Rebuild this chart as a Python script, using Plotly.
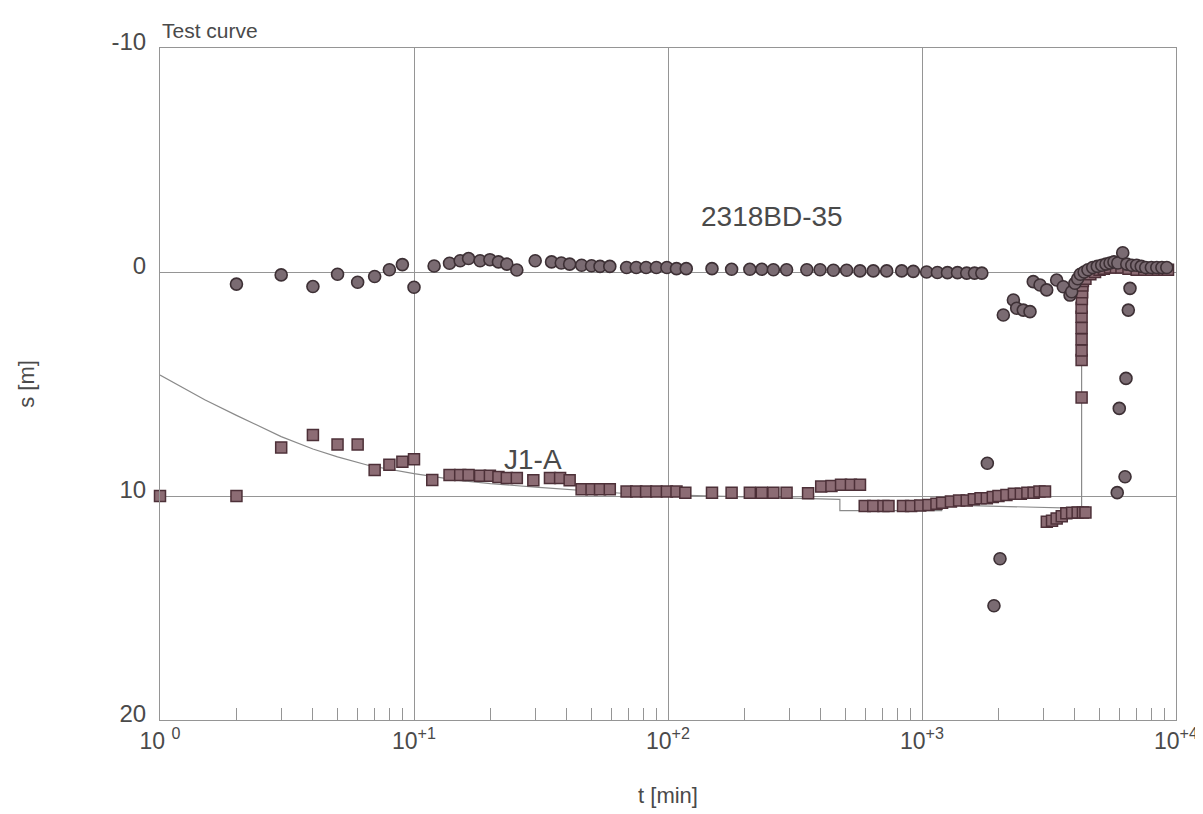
import math
import plotly.graph_objects as go

# --- 2318BD-35 (circles) ---
obs_t = [2, 3, 4, 5, 6, 7, 8, 9, 10, 12, 13.8, 15.2, 16.4, 18.2, 19.9, 21.5, 23.2, 25.4,
         30, 34.8, 38, 41, 45.7, 50, 54, 59, 68.7, 75, 82, 90, 99, 108, 118,
         149, 178, 210, 234, 260, 293, 352, 397, 448, 505, 570, 643, 726, 832, 924,
         1043, 1150, 1260, 1380, 1500, 1610, 1720,
         1808, 1920, 2028,
         2090, 2290, 2360, 2505, 2662, 2742, 2915, 3097, 3390, 3600, 3826, 3884,
         4000, 4100, 4200, 4350, 4500, 4700, 4900, 5100, 5300, 5500, 5700, 5900,
         6170, 6400, 6700, 7000, 7300, 7600, 8000, 8400, 8800, 9200,
         6590, 6490, 6355, 5980, 6300, 5870]
obs_s = [0.54, 0.13, 0.65, 0.1, 0.46, 0.2, -0.1, -0.33, 0.68, -0.27, -0.39, -0.5, -0.6, -0.5, -0.55, -0.45, -0.35, -0.09,
         -0.5, -0.45, -0.4, -0.35, -0.3, -0.28, -0.25, -0.25, -0.2, -0.2, -0.2, -0.2, -0.2, -0.15, -0.15,
         -0.15, -0.12, -0.12, -0.12, -0.1, -0.1, -0.1, -0.1, -0.08, -0.08, -0.05, -0.05, -0.05, -0.05, -0.03,
         0.0, 0.02, 0.03, 0.03, 0.05, 0.05, 0.05,
         8.54, 14.9, 12.8,
         1.92, 1.25, 1.62, 1.70, 1.77, 0.43, 0.58, 0.80, 0.36, 0.66, 1.03, 0.88,
         0.5, 0.3, 0.1, 0.0, -0.1, -0.2, -0.25, -0.3, -0.35, -0.4, -0.45, -0.4,
         -0.86, -0.35, -0.3, -0.3, -0.25, -0.2, -0.2, -0.2, -0.2, -0.2,
         0.73, 1.70, 4.75, 6.09, 9.14, 9.85]

# --- J1-A (squares) ---
pw_t = [1, 2, 3, 4, 5, 6, 7, 8, 9, 10, 11.8, 13.8, 15.2, 16.4, 18.2, 19.9, 21.5, 23.2, 25.4,
        29.5, 34.3, 37.6, 41, 45.7, 50, 54, 59, 68.7, 75, 82, 90, 99, 108, 117,
        149, 178, 210, 234, 260, 293, 356, 401, 440, 480, 525, 570,
        595, 643, 705, 738, 842, 906, 984, 1060, 1140,
        1200, 1300, 1400, 1500, 1600, 1700, 1800, 1900, 2000, 2150, 2300, 2450, 2600, 2750, 2900, 3050,
        3100, 3250, 3390, 3550, 3700, 3900, 4100, 4300, 4400,
        4250, 4250, 4250, 4250, 4250, 4250, 4250, 4260, 4270, 4280, 4300,
        4400, 4600, 4800, 5000, 5200, 5500, 5800, 6100, 6500, 7000, 7500, 8000, 8500, 9000, 9300]
pw_s = [10.0, 10.0, 7.83, 7.28, 7.7, 7.7, 8.84, 8.6, 8.47, 8.36, 9.29, 9.06, 9.06, 9.06, 9.1, 9.1, 9.15, 9.2, 9.2,
        9.3, 9.2, 9.2, 9.3, 9.7, 9.7, 9.7, 9.7, 9.8, 9.8, 9.8, 9.8, 9.8, 9.8, 9.85,
        9.85, 9.85, 9.85, 9.85, 9.85, 9.85, 9.88, 9.58, 9.55, 9.5, 9.5, 9.5,
        10.45, 10.45, 10.45, 10.45, 10.45, 10.45, 10.42, 10.4, 10.35,
        10.3, 10.25, 10.2, 10.2, 10.15, 10.1, 10.1, 10.05, 10.0, 9.95, 9.9, 9.9, 9.85, 9.85, 9.8, 9.8,
        11.15, 11.1, 11.0, 10.9, 10.77, 10.75, 10.74, 10.74, 10.74,
        5.6, 3.93, 3.5, 3.0, 2.5, 2.0, 1.6, 1.2, 0.9, 0.6, 0.4,
        0.3, 0.1, 0.0, -0.1, -0.15, -0.2, -0.2, -0.2, -0.15, -0.1, -0.1, -0.1, -0.1, -0.1, -0.1]

# --- test (model) curve ---
fit_t = [1, 1.5, 2, 3, 4, 5, 6.7, 10, 15, 20, 30, 50, 70, 100, 200, 300, 475, 475,
         1195, 1195, 2000, 3000, 4250, 4250, 4500, 5000, 6000, 7000, 8000, 9300]
fit_s = [4.6, 5.7, 6.4, 7.35, 7.9, 8.25, 8.65, 9.0, 9.3, 9.45, 9.6, 9.8, 9.9, 9.95, 10.05, 10.1, 10.15, 10.65,
         10.65, 10.4, 10.45, 10.5, 10.55, 0.4, 0.2, 0.0, -0.15, -0.2, -0.2, -0.2]

x_tickvals = [1, 10, 100, 1000, 10000]
x_ticktext = ["10 <sup>0</sup>", "10<sup>+1</sup>", "10<sup>+2</sup>", "10<sup>+3</sup>", "10<sup>+4</sup>"]
x_minor = [m * 10 ** d for d in range(4) for m in range(2, 10)]
y_tickvals = [-10, 0, 10, 20]
y_ticktext = ["-10", "0", "10", "20"]

series_labels = ["2318BD-35", "J1-A"]
label_t = [257, 29.4]
label_s = [-2.46, 8.35]

FONT = "Arial, Liberation Sans, sans-serif"
TXT = "#4a4a4a"
GRID = "#959595"

fig = go.Figure()
fig.add_trace(go.Scatter(x=fit_t, y=fit_s, mode="lines",
                         line=dict(color="#8a8a8a", width=1.2), showlegend=False, cliponaxis=False))
fig.add_trace(go.Scatter(x=pw_t, y=pw_s, mode="markers", showlegend=False, cliponaxis=False,
                         marker=dict(symbol="square", size=11, color="#8c6c74",
                                     line=dict(color="#4d3038", width=1.5))))
fig.add_trace(go.Scatter(x=obs_t, y=obs_s, mode="markers", showlegend=False, cliponaxis=False,
                         marker=dict(symbol="circle", size=12, color="#7a6b72",
                                     line=dict(color="#3d3035", width=1.6))))

annots = [dict(text="Test curve", xref="paper", yref="paper", x=0, y=1, xanchor="left", yanchor="bottom",
               showarrow=False, font=dict(size=21, color=TXT), xshift=0, yshift=4)]
for lab, lt, ls in zip(series_labels, label_t, label_s):
    # annotations on a log axis are positioned in log10 units
    annots.append(dict(text=lab, x=math.log10(lt), y=ls, xref="x", yref="y", showarrow=False,
                       font=dict(size=28, color=TXT)))

fig.update_layout(
    width=1203, height=814,
    margin=dict(l=152, r=35, t=40, b=102),
    paper_bgcolor="white", plot_bgcolor="white",
    font=dict(family=FONT, color=TXT, size=22),
    xaxis=dict(type="log", range=[0, 4], tickmode="array", tickvals=x_tickvals, ticktext=x_ticktext,
               showgrid=True, gridcolor=GRID, gridwidth=1, ticks="", automargin=False,
               showline=True, linecolor=GRID, linewidth=1, mirror=True, zeroline=False,
               tickfont=dict(size=23, color=TXT),
               minor=dict(tickmode="array", tickvals=x_minor, ticks="inside", ticklen=12,
                          tickcolor=GRID, tickwidth=1, showgrid=False),
               title=dict(text="t [min]", font=dict(size=22, color=TXT), standoff=35)),
    yaxis=dict(range=[20, -10], tickmode="array", tickvals=y_tickvals, ticktext=y_ticktext,
               showgrid=True, gridcolor=GRID, gridwidth=1, ticks="", zeroline=False, automargin=False,
               showline=True, linecolor=GRID, linewidth=1, mirror=True,
               tickfont=dict(size=24, color=TXT), ticklabelstandoff=8, ticklabelshift=6,
               title=dict(text="s [m]", font=dict(size=22, color=TXT), standoff=70)),
    annotations=annots,
)

fig.write_html("out.html")
